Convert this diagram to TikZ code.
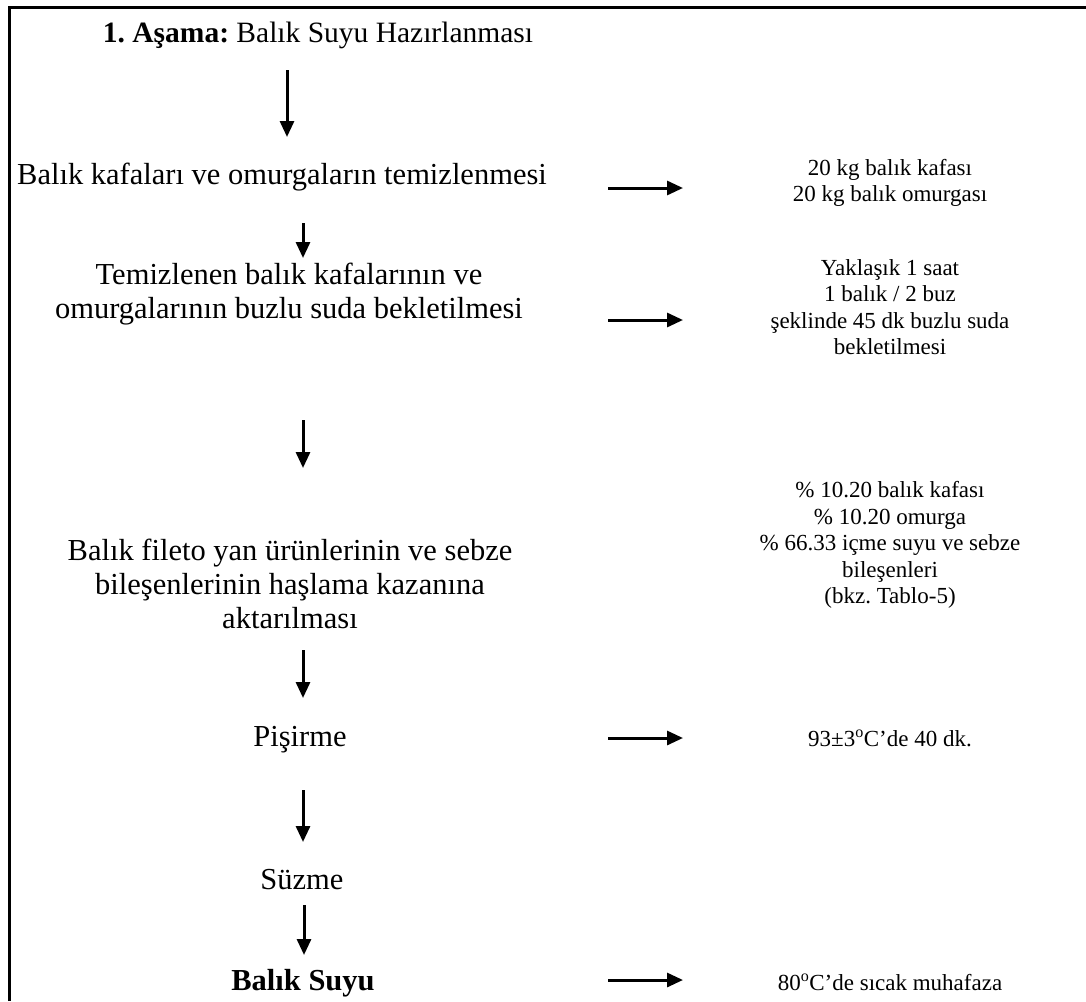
\documentclass[tikz,border=0pt]{standalone}
\usepackage{fontspec}
\setmainfont{Liberation Serif}
\usetikzlibrary{arrows.meta}
\frenchspacing

\tikzset{
  islem/.style={align=center, inner sep=0pt, font=\fontsize{30.5}{34}\selectfont},
  aciklama/.style={align=center, inner sep=0pt, font=\fontsize{23}{26.5}\selectfont},
  akis/.style={line width=3pt, -{Triangle[length=16pt,width=14pt]}}
}

\begin{document}
\begin{tikzpicture}[x=1pt,y=-1pt]
  \useasboundingbox (0,0) rectangle (1086,1001);
  % frame (top and left edge only)
  \draw[line width=3pt] (9,1001) -- (9,7) -- (1086,7);

  % process steps
  \node[islem, font=\fontsize{29.5}{34}\selectfont] (baslik) at (318,35) {\textbf{1. Aşama:} Balık Suyu Hazırlanması};
  \node[islem] (temiz) at (282,177) {Balık kafaları ve omurgaların temizlenmesi};
  \node[islem] (bekle) at (289,294) {Temizlenen balık kafalarının ve\\omurgalarının buzlu suda bekletilmesi};
  \node[islem] (aktar) at (290,584) {Balık fileto yan ürünlerinin ve sebze\\bileşenlerinin haşlama kazanına\\aktarılması};
  \node[islem] (pisir) at (300,740) {Pişirme};
  \node[islem] (suz) at (302,880) {Süzme};
  \node[islem] (suyu) at (303,983) {\textbf{Balık Suyu}};

  % notes on the right
  \node[aciklama] (not1) at (890,183) {20 kg balık kafası\\20 kg balık omurgası};
  \node[aciklama] (not2) at (890,307) {Yaklaşık 1 saat\\1 balık / 2 buz\\şeklinde 45 dk buzlu suda\\bekletilmesi};
  \node[aciklama] (not3) at (890,545) {\% 10.20 balık kafası\\\% 10.20 omurga\\\% 66.33 içme suyu ve sebze\\bileşenleri\\(bkz. Tablo-5)};
  \node[aciklama] (not4) at (890,738) {93±3\textsuperscript{o}C’de 40 dk.};
  \node[aciklama] (not5) at (890,982) {80\textsuperscript{o}C’de sıcak muhafaza};

  % arrow ends
  \coordinate (a1) at (287,70);  \coordinate (b1) at (287,137);
  \coordinate (a2) at (303,223); \coordinate (b2) at (303,258);
  \coordinate (a3) at (303,420); \coordinate (b3) at (303,468);
  \coordinate (a4) at (303,650); \coordinate (b4) at (303,698);
  \coordinate (a5) at (303,790); \coordinate (b5) at (303,842);
  \coordinate (a6) at (304,905); \coordinate (b6) at (304,955);
  \coordinate (r1) at (608,188); \coordinate (s1) at (683,188);
  \coordinate (r2) at (608,320); \coordinate (s2) at (683,320);
  \coordinate (r3) at (608,738); \coordinate (s3) at (683,738);
  \coordinate (r4) at (608,980); \coordinate (s4) at (683,980);

  % down arrows
  \foreach \i in {1,...,6}
    \draw[akis] (a\i) -- (b\i);
  % side arrows
  \foreach \i in {1,...,4}
    \draw[akis] (r\i) -- (s\i);
\end{tikzpicture}
\end{document}
